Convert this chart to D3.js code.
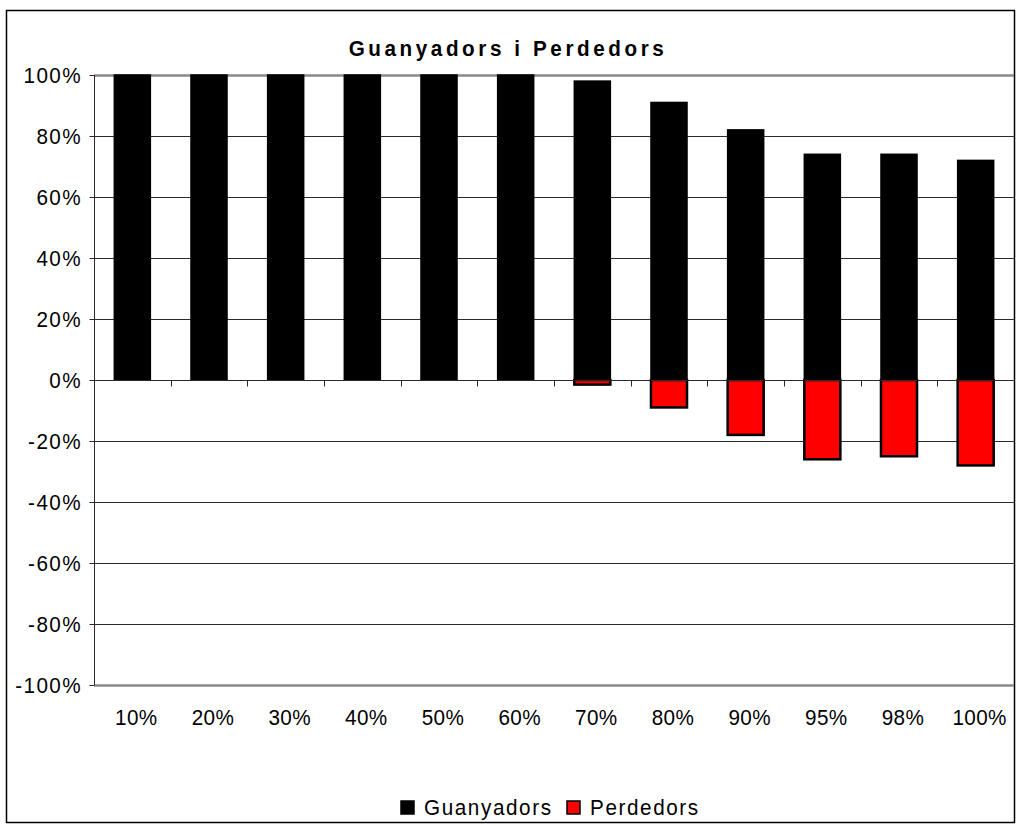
<!DOCTYPE html>
<html>
<head>
<meta charset="utf-8">
<script src="https://cdn.jsdelivr.net/npm/d3@7/dist/d3.min.js"></script>
<style>
  html, body { margin: 0; padding: 0; background: #fff; }
  svg text { font-family: "Liberation Sans", Arial, sans-serif; fill: #000; }
</style>
</head>
<body>
<div id="chart"></div>
<script>
// Guanyadors i Perdedors — stacked +/- bars per percentile bucket.
const categories = ['10%', '20%', '30%', '40%', '50%', '60%', '70%', '80%', '90%', '95%', '98%', '100%'];
const guanyadors = [100, 100, 100, 100, 100, 100, 98, 91, 82, 74, 74, 72];
const perdedors = [0, 0, 0, 0, 0, 0, -1.5, -9, -18, -26, -25, -28];
const yTicks = [100, 80, 60, 40, 20, 0, -20, -40, -60, -80, -100];
const legendItems = [
  { label: 'Guanyadors', color: '#000000' },
  { label: 'Perdedors', color: '#FF0000' }
];

const W = 1016, H = 826;
const plot = { left: 94, right: 1014, top: 75, bottom: 685 };
// the source picture is stretched a little vertically, so text is squeezed in x
const SX = 0.94;

const svg = d3.select('#chart').append('svg')
  .attr('width', W).attr('height', H);

// place a horizontally squeezed text at (px, py)
function squeezed(sel, px, py, sx = SX) {
  const f = v => (typeof v === 'function' ? v : () => v);
  sel.attr('x', 0).attr('y', 0)
    .attr('transform', (d, i) => `translate(${f(px)(d, i)},${f(py)(d, i)}) scale(${sx},1)`);
  return sel;
}

// outer frame
svg.append('rect')
  .attr('x', 6.5).attr('y', 10.5).attr('width', 1008).attr('height', 812)
  .attr('fill', '#fff').attr('stroke', '#000').attr('stroke-width', 1.5);

const x = d3.scaleBand().domain(categories).range([plot.left, plot.right]).paddingInner(0).paddingOuter(0);
const y = d3.scaleLinear().domain([-100, 100]).range([plot.bottom, plot.top]);
const barW = x.bandwidth() * 0.47;

// title
svg.append('text')
  .attr('text-anchor', 'middle')
  .attr('font-size', 22).attr('font-weight', 'bold')
  .attr('letter-spacing', 3.8)
  .text('Guanyadors i Perdedors')
  .call(squeezed, 508, 56);

// gridlines (the ±100% borders are thicker grey)
svg.append('g').selectAll('line')
  .data(yTicks.filter(d => d !== 0))
  .join('line')
    .attr('x1', plot.left).attr('x2', plot.right)
    .attr('y1', d => Math.round(y(d)) + 0.5).attr('y2', d => Math.round(y(d)) + 0.5)
    .attr('stroke', d => Math.abs(d) === 100 ? '#8a8a8a' : '#2b2b2b')
    .attr('stroke-width', d => Math.abs(d) === 100 ? 2.5 : 1);

// left axis
const yAxis = svg.append('g')
  .attr('transform', `translate(${plot.left + 0.5},0)`)
  .call(d3.axisLeft(y).tickValues(yTicks).tickSize(5).tickFormat(d => d + '%'));
yAxis.select('.domain').attr('stroke', '#2b2b2b').attr('d', `M-0,${plot.top}V${plot.bottom}`);
yAxis.selectAll('.tick line').attr('stroke', '#2b2b2b');
yAxis.selectAll('.tick text')
  .attr('font-size', 22).attr('letter-spacing', 1.5)
  .attr('font-family', '"Liberation Sans", Arial, sans-serif')
  .attr('fill', '#000').attr('dy', '0.36em')
  .call(squeezed, -12.5, 0);

// bars: losses below, wins above
svg.append('g').selectAll('rect')
  .data(categories.map((c, i) => ({ c, v: perdedors[i] })).filter(d => d.v < 0))
  .join('rect')
    .attr('x', d => x(d.c) + (x.bandwidth() - barW) / 2)
    .attr('y', y(0))
    .attr('width', barW)
    .attr('height', d => y(d.v) - y(0))
    .attr('fill', '#FF0000')
    .attr('stroke', '#000').attr('stroke-width', 2.5);

svg.append('g').selectAll('rect')
  .data(categories.map((c, i) => ({ c, v: guanyadors[i] })))
  .join('rect')
    .attr('x', d => x(d.c) + (x.bandwidth() - barW) / 2)
    .attr('y', d => y(d.v))
    .attr('width', barW)
    .attr('height', d => y(0) - y(d.v))
    .attr('fill', '#000')
    .attr('stroke', '#000').attr('stroke-width', 1.5);

// zero line with category ticks
const zy = Math.round(y(0)) + 0.5;
svg.append('line')
  .attr('x1', plot.left).attr('x2', plot.right)
  .attr('y1', zy).attr('y2', zy)
  .attr('stroke', '#2b2b2b').attr('stroke-width', 1);
svg.append('g').selectAll('line')
  .data(categories.slice(1))
  .join('line')
    .attr('x1', d => Math.round(x(d)) + 0.5).attr('x2', d => Math.round(x(d)) + 0.5)
    .attr('y1', zy).attr('y2', zy + 6)
    .attr('stroke', '#2b2b2b');

// category labels below the plot
svg.append('g').selectAll('text')
  .data(categories)
  .join('text')
    .attr('text-anchor', 'middle')
    .attr('font-size', 22).attr('letter-spacing', 0.4)
    .text(d => d)
    .call(squeezed, d => x(d) + x.bandwidth() / 2 + 4, 725);

// legend
const legendX = [401, 567];
const lg = svg.append('g').selectAll('g')
  .data(legendItems)
  .join('g')
    .attr('transform', (d, i) => `translate(${legendX[i]},801)`);
lg.append('rect')
  .attr('width', 13).attr('height', 13)
  .attr('fill', d => d.color)
  .attr('stroke', '#000').attr('stroke-width', 1.5);
lg.append('text')
  .attr('font-size', 22).attr('letter-spacing', 1.7)
  .text(d => d.label)
  .call(squeezed, 23, 14);
</script>
</body>
</html>
